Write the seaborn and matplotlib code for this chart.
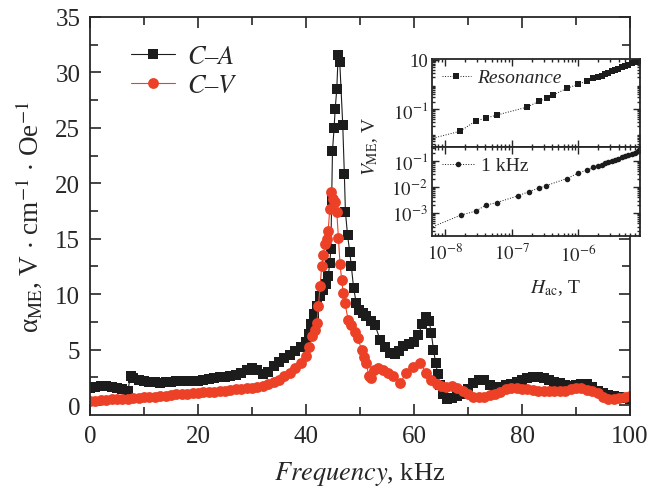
import numpy as np
import pandas as pd
import seaborn as sns
import matplotlib
matplotlib.use("Agg")
import matplotlib.pyplot as plt
from matplotlib.ticker import MultipleLocator, LogLocator, NullFormatter, FixedLocator, FixedFormatter

# main panel: C-A sample (black squares)
freq_ca = [0, 1, 2, 3, 4, 5, 6, 7, 7.5, 8,
           9, 10, 11, 12, 13, 14, 15, 16, 17, 18,
           19, 20, 21, 22, 23, 24, 25, 26, 27, 28,
           29, 30, 31, 32, 33, 34, 35, 36, 37, 38,
           39, 40, 40.5, 41, 41.5, 42, 42.6, 43.2, 43.7, 44.1,
           44.4, 44.6, 44.75, 44.9, 45.2, 45.4, 45.7, 45.95, 46.25, 46.8,
           47.1, 47.3, 47.7, 48.1, 48.4, 48.8, 49.3, 49.8, 50.5, 51.2,
           52, 52.8, 53.7, 54.6, 55.6, 56.5, 57.3, 58, 59, 60,
           60.8, 61.5, 62.2, 62.8, 63.2, 63.6, 64.0, 64.4, 64.8, 65.4,
           66.1, 67, 68, 69, 70, 71, 72, 73, 74, 75,
           76, 77, 78, 79, 80, 81, 82, 83, 84, 85,
           86, 87, 88, 89, 90, 91, 92, 93, 94, 95,
           96, 97, 98, 99, 100]
alpha_ca = [1.5, 1.6, 1.7, 1.7, 1.6, 1.5, 1.4, 1.3, 2.6, 2.4,
            2.25, 2.15, 2.1, 2.05, 2.0, 2.05, 2.1, 2.15, 2.2, 2.2,
            2.15, 2.15, 2.25, 2.35, 2.45, 2.5, 2.55, 2.6, 2.7, 2.9,
            3.2, 3.35, 3.2, 2.8, 3.0, 3.5, 3.9, 4.2, 4.5, 4.9,
            5.2, 5.7, 6.4, 7.3, 8.2, 8.9, 9.8, 10.4, 10.9, 11.6,
            12.8, 14.1, 18.5, 22.9, 25.0, 26.7, 28.5, 31.6, 30.9, 25.3,
            20.8, 17.4, 15.3, 13.8, 12.5, 10.6, 9.2, 8.6, 8.3, 8.0,
            7.6, 7.2, 5.9, 5.2, 4.7, 4.6, 4.9, 5.3, 5.5, 5.7,
            6.3, 7.3, 7.9, 7.6, 6.5, 5.0, 3.8, 2.8, 1.8, 1.0,
            0.5, 0.6, 0.8, 1.0, 1.4, 2.0, 2.3, 2.3, 1.8, 1.6,
            1.6, 1.8, 1.9, 2.1, 2.3, 2.4, 2.5, 2.5, 2.4, 2.3,
            2.1, 2.0, 1.8, 1.7, 1.8, 1.9, 1.9, 1.6, 1.3, 1.1,
            0.9, 0.8, 0.7, 0.6, 0.5]

# main panel: C-V sample (red circles)
freq_cv = [0, 1, 2, 3, 4, 5, 6, 7, 8, 9,
           10, 11, 12, 13, 14, 15, 16, 17, 18, 19,
           20, 21, 22, 23, 24, 25, 26, 27, 28, 29,
           30, 31, 32, 33, 34, 35, 36, 37, 38, 39,
           40, 40.6, 41.2, 41.6, 42.0, 42.3, 42.6, 42.9, 43.2, 43.5,
           43.8, 44.1, 44.4, 44.7, 45.0, 45.4, 45.7, 46.0, 46.3, 46.6,
           46.9, 47.2, 47.8, 48.4, 49.0, 49.6, 50.3, 50.8, 51.2, 51.6,
           52.0, 52.5, 53.3, 54.3, 55.2, 56.2, 57.4, 58.6, 59.8, 61.1,
           62.3, 63.2, 64.2, 65, 66, 67, 68, 69, 70, 71,
           72, 73, 74, 75, 76, 77, 78, 79, 80, 81,
           82, 83, 84, 85, 86, 87, 88, 89, 90, 91,
           92, 93, 94, 95, 96, 97, 98, 99, 100]
alpha_cv = [0.4, 0.4, 0.45, 0.45, 0.5, 0.5, 0.55, 0.55, 0.6, 0.65,
            0.7, 0.7, 0.75, 0.8, 0.85, 0.9, 0.95, 1.0, 1.0, 1.05,
            1.1, 1.15, 1.2, 1.2, 1.25, 1.3, 1.35, 1.4, 1.45, 1.5,
            1.55, 1.65, 1.75, 1.9, 2.05, 2.3, 2.6, 2.9, 3.3, 3.8,
            4.4, 5.2, 6.2, 6.8, 7.4, 8.9, 10.7, 12.5, 13.5, 14.5,
            15.0, 15.7, 17.7, 19.2, 18.6, 18.3, 17.4, 15.1, 12.7, 11.3,
            10.1, 9.2, 7.7, 7.2, 6.6, 6.0, 5.0, 4.3, 3.8, 2.6,
            2.4, 3.2, 3.3, 3.2, 2.9, 2.6, 2.0, 2.9, 3.4, 3.8,
            2.9, 2.3, 1.9, 1.7, 1.6, 1.7, 1.5, 1.3, 1.0, 0.75,
            0.7, 0.75, 0.9, 1.0, 1.2, 1.45, 1.55, 1.5, 1.4, 1.4,
            1.35, 1.3, 1.25, 1.25, 1.25, 1.25, 1.3, 1.4, 1.55, 1.5,
            1.35, 1.25, 1.1, 0.7, 0.5, 0.55, 0.65, 0.75, 0.8]

# inset: V_ME vs H_ac
h_res = [5.6e-9, 1.68e-8, 2.88e-8, 4.12e-8, 5.96e-8, 1.71e-7, 2.59e-7, 3.42e-7, 4.21e-7,
         6.68e-7, 1.0e-6, 1.36e-6, 1.68e-6, 2.0e-6, 2.24e-6, 2.51e-6, 2.82e-6, 3.16e-6,
         3.55e-6, 3.98e-6, 4.47e-6, 5.01e-6, 5.62e-6, 6.31e-6, 7.08e-6, 7.94e-6]
v_res = [5.9e-3, 0.0126, 0.0327, 0.0433, 0.0571, 0.1205, 0.211, 0.288, 0.372,
         0.692, 1.02, 1.41, 1.74, 2.04, 2.29, 2.63, 2.95, 3.39,
         3.80, 4.27, 4.90, 5.50, 6.31, 7.08, 7.94, 9.12]
h_1k = [5.6e-9, 1.74e-8, 2.88e-8, 4.12e-8, 5.96e-8, 1.23e-7, 1.82e-7, 2.59e-7, 3.24e-7,
        6.68e-7, 1.0e-6, 1.36e-6, 1.68e-6, 2.0e-6, 2.24e-6, 2.51e-6, 2.82e-6, 3.16e-6,
        3.55e-6, 3.98e-6, 4.47e-6, 5.01e-6, 5.62e-6, 6.31e-6, 7.08e-6, 7.94e-6]
v_1k = [2.5e-4, 8.3e-4, 1.17e-3, 2.0e-3, 2.5e-3, 4.5e-3, 6.6e-3, 9.1e-3, 0.011,
        0.0209, 0.0339, 0.0447, 0.0562, 0.0646, 0.0724, 0.0794, 0.0891, 0.0977,
        0.110, 0.123, 0.135, 0.151, 0.166, 0.186, 0.204, 0.229]

BLACK = "#1c1c1c"
RED = "#ec4127"

sns.set_style("ticks")
plt.rcParams['font.family'] = ['Liberation Serif', 'DejaVu Serif']
plt.rcParams['mathtext.fontset'] = 'stix'
plt.rcParams['axes.linewidth'] = 1.3

fig = plt.figure(figsize=(6.61, 4.89), dpi=100)
ax = fig.add_axes([0.1362, 0.1493, 0.8169, 0.8139])

df_ca = pd.DataFrame({'f': freq_ca, 'a': alpha_ca})
df_cv = pd.DataFrame({'f': freq_cv, 'a': alpha_cv})
sns.lineplot(data=df_ca, x='f', y='a', ax=ax, color=BLACK, lw=0.8, marker='s',
             markersize=7.2, markeredgewidth=0, estimator=None, sort=False, label=r"$C$–$A$")
sns.lineplot(data=df_cv, x='f', y='a', ax=ax, color=RED, lw=0.8, marker='o',
             markersize=7.8, markeredgewidth=0, estimator=None, sort=False, label=r"$C$–$V$")

ax.set_xlim(0, 100)
ax.set_ylim(-0.9, 35)
ax.xaxis.set_major_locator(MultipleLocator(20))
ax.xaxis.set_minor_locator(MultipleLocator(10))
ax.yaxis.set_major_locator(MultipleLocator(5))
ax.yaxis.set_minor_locator(MultipleLocator(2.5))
ax.tick_params(which='both', direction='in', top=True, right=True, width=1.2, labelsize=18, pad=7)
ax.tick_params(which='major', length=8)
ax.tick_params(which='minor', length=6)
ax.set_xlabel("Frequency", fontsize=19, fontstyle='italic')
ax.set_ylabel(r"α$_{\mathrm{ME}}$, V $\cdot$ cm$^{-1}$ $\cdot$ Oe$^{-1}$", fontsize=19.5)
ax.xaxis.set_label_coords(0.5, -0.12)
ax.yaxis.set_label_coords(-0.085, 0.5)
ax.xaxis.label.set_text("")
# x label: italic word followed by upright unit
fig.text(0.5 * (0.1362 * 2 + 0.8169), 1 - 480 / 489, r"$\mathit{Frequency}$, kHz",
         ha='center', va='baseline', fontsize=19)

leg = ax.legend(loc='upper left', bbox_to_anchor=(0.075, 0.93), frameon=False, fontsize=19,
                handlelength=1.7, handletextpad=0.45, labelspacing=0.2, borderpad=0, borderaxespad=0)

# inset panels
ax_top = fig.add_axes([0.6536, 0.6973, 0.3147, 0.18])
ax_bot = fig.add_axes([0.6536, 0.5153, 0.3147, 0.182])

sns.lineplot(x=h_res, y=v_res, ax=ax_top, color=BLACK, lw=0.7, ls=':', marker='s',
             markersize=4, markeredgewidth=0, estimator=None, sort=False, label="Resonance")
sns.lineplot(x=h_1k, y=v_1k, ax=ax_bot, color=BLACK, lw=0.7, ls=':', marker='o',
             markersize=4, markeredgewidth=0, estimator=None, sort=False, label="1 kHz")

for a in (ax_top, ax_bot):
    a.set_xscale('log')
    a.set_yscale('log')
    a.set_xlim(6.4e-9, 8.4e-6)
    a.xaxis.set_major_locator(FixedLocator([1e-8, 1e-7, 1e-6]))
    a.xaxis.set_minor_locator(LogLocator(base=10, subs=np.arange(2, 10)))
    a.xaxis.set_minor_formatter(NullFormatter())
    a.yaxis.set_minor_formatter(NullFormatter())
    a.tick_params(which='both', direction='in', top=True, right=True, width=1.0, labelsize=13.5, pad=3)
    a.tick_params(which='major', length=5)
    a.tick_params(which='minor', length=2.5)
    a.set_facecolor('white')

ax_top.set_ylim(2.9e-3, 10.7)
ax_top.yaxis.set_major_locator(FixedLocator([0.1, 10]))
ax_top.yaxis.set_major_formatter(FixedFormatter([r"$10^{-1}$", "10"]))
ax_top.yaxis.set_minor_locator(LogLocator(base=10, subs=np.arange(2, 10), numticks=20))
ax_top.tick_params(axis='x', labelbottom=False)

ax_bot.set_ylim(1.3e-4, 0.34)
ax_bot.yaxis.set_major_locator(FixedLocator([1e-3, 1e-2, 1e-1]))
ax_bot.yaxis.set_major_formatter(FixedFormatter([r"$10^{-3}$", r"$10^{-2}$", r"$10^{-1}$"]))
ax_bot.yaxis.set_minor_locator(LogLocator(base=10, subs=np.arange(2, 10), numticks=20))
ax_bot.xaxis.set_major_formatter(FixedFormatter([r"$10^{-8}$", r"$10^{-7}$", r"$10^{-6}$"]))
ax_bot.tick_params(axis='x', pad=5)

ax_top.legend(loc='upper left', frameon=False, handlelength=1.5, handletextpad=0.3,
              borderpad=0.2, borderaxespad=0.3, prop={'style': 'italic', 'size': 14})
ax_bot.legend(loc='upper left', frameon=False, fontsize=14, handlelength=1.7, handletextpad=0.3,
              borderpad=0.2, borderaxespad=0.3)
ax_top.set_xlabel("")
ax_bot.set_xlabel("")

fig.text(0.56, 0.70, r"$V_{\mathrm{ME}}$, V", rotation=90, ha='center', va='center', fontsize=14)
fig.text(0.84, 0.41, r"$H_{\mathrm{ac}}$, T", ha='center', va='center', fontsize=14)

fig.savefig("out.png", dpi=100)
